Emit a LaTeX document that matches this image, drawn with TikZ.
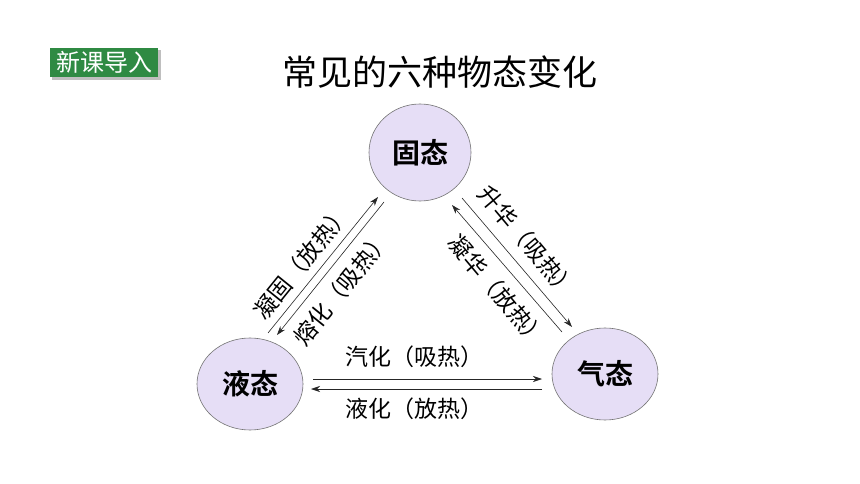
\documentclass[tikz,border=0pt]{standalone}
\usepackage{fontspec}
\newfontfamily\cjk{Noto Sans CJK SC}
\newfontfamily\cjkb{Noto Sans CJK SC Bold}
\usetikzlibrary{arrows.meta,shapes.geometric}
\definecolor{statefill}{HTML}{E6DEF6}
\definecolor{badgegreen}{HTML}{2F8A43}
\tikzset{
  statenode/.style={ellipse, draw=black!55, line width=0.6pt, fill=statefill, inner sep=0pt},
  statetext/.style={font=\cjkb\fontsize{28}{28}\selectfont},
  conv/.style={draw=black!85, line width=0.6pt, -{Stealth[length=9pt,width=6pt]}},
  lbl/.style={font=\cjk\fontsize{23}{23}\selectfont, inner sep=0pt},
}
\begin{document}
\begin{tikzpicture}[x=1pt,y=-1pt]
\useasboundingbox[fill=white] (0,0) rectangle (860,484);
% badge
\fill[black!25] (52,50) rectangle (161,80);
\node[fill=badgegreen, minimum width=108pt, minimum height=29pt, inner sep=0pt, anchor=north west, text=white, font=\cjk\fontsize{24}{24}\selectfont] (badge) at (50,48) {新课导入};
% title
\node[font=\cjk\fontsize{35}{35}\selectfont] (title) at (440,72) {常见的六种物态变化};
% states
\node[statenode, minimum width=102pt, minimum height=97pt] (solid) at (420,152.5) {};
\node[statetext] at (solid) {固态};
\node[statenode, minimum width=106pt, minimum height=92pt] (liquid) at (250,384) {};
\node[statetext] at (liquid) {液态};
\node[statenode, minimum width=106pt, minimum height=92pt] (gas) at (605,374) {};
\node[statetext] at (gas) {气态};
% arrow endpoints
\coordinate (a1s) at (268,333); \coordinate (a1e) at (378,197);
\coordinate (a2s) at (384,202); \coordinate (a2e) at (277,335);
\coordinate (b1s) at (562,332); \coordinate (b1e) at (452,205);
\coordinate (b2s) at (462,198); \coordinate (b2e) at (572,327);
\coordinate (c1s) at (313,379); \coordinate (c1e) at (542,379);
\coordinate (c2s) at (542,389); \coordinate (c2e) at (311,389);
\draw[conv] (a1s) -- (a1e);
\draw[conv] (a2s) -- (a2e);
\draw[conv] (b1s) -- (b1e);
\draw[conv] (b2s) -- (b2e);
\draw[conv] (c1s) -- (c1e);
\draw[conv] (c2s) -- (c2e);
% labels
\node[lbl, rotate=51] (l1) at (302,262) {凝固（放热）};
\node[lbl, rotate=51] (l2) at (342,288) {熔化（吸热）};
\node[lbl, rotate=-50] (l3) at (528,242) {升华（吸热）};
\node[lbl, rotate=-50] (l4) at (498,291) {凝华（放热）};
\node[lbl] (l5) at (414,357) {汽化（吸热）};
\node[lbl] (l6) at (414,409) {液化（放热）};
\end{tikzpicture}
\end{document}
